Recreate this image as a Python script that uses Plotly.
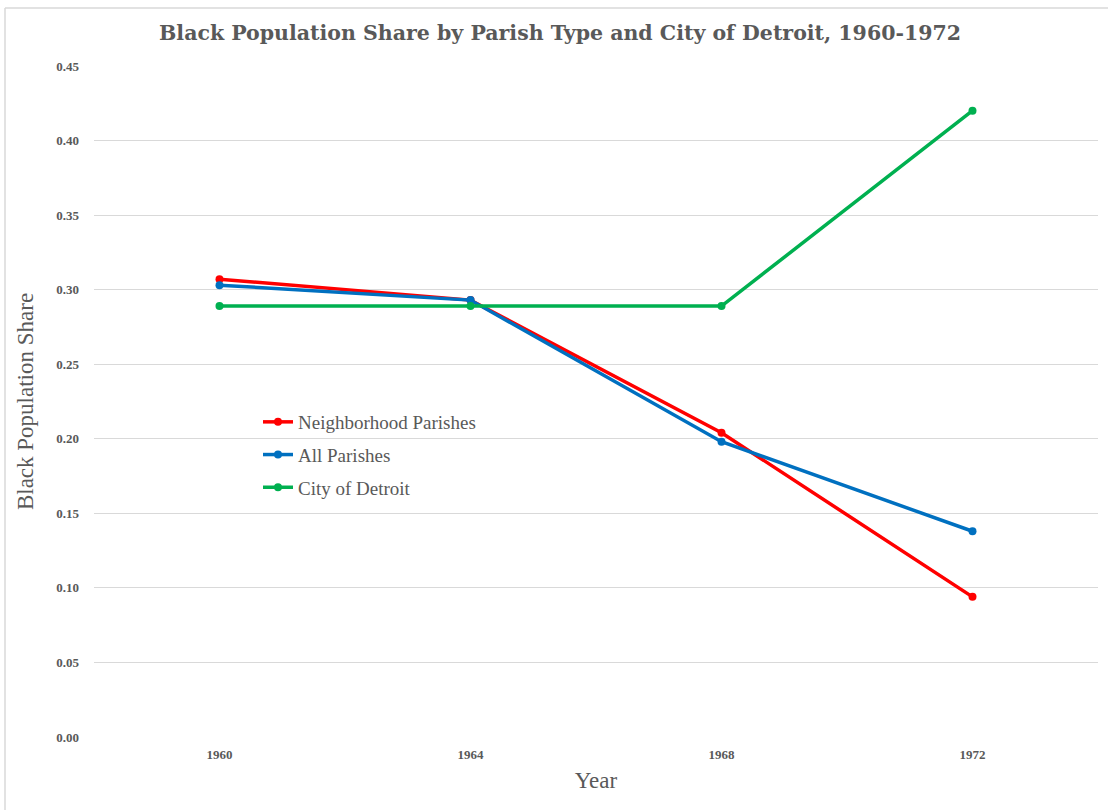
import plotly.graph_objects as go

years = ["1960", "1964", "1968", "1972"]
neighborhood = [0.307, 0.293, 0.204, 0.094]
all_parishes = [0.303, 0.293, 0.198, 0.138]
detroit = [0.289, 0.289, 0.289, 0.420]
y_ticks = [0.00, 0.05, 0.10, 0.15, 0.20, 0.25, 0.30, 0.35, 0.40, 0.45]

series = [
    ("Neighborhood Parishes", neighborhood, "#FF0000"),
    ("All Parishes", all_parishes, "#0070C0"),
    ("City of Detroit", detroit, "#00B050"),
]

fig = go.Figure()
for i, (name, vals, col) in enumerate(series):
    fig.add_trace(go.Scatter(
        x=years, y=vals, name=name, mode="lines+markers",
        line=dict(color=col, width=3.5),
        marker=dict(color=col, size=8),
        legendgroup=str(i),
    ))

W, H = 1108, 810
l, r, t, b = 94, 10, 66, 73
pw, ph = W - l - r, H - t - b

def px(x):
    return (x - l) / pw

def py(y):
    return (H - b - y) / ph

fig.update_layout(
    width=W, height=H,
    margin=dict(l=l, r=r, t=t, b=b),
    paper_bgcolor="white", plot_bgcolor="white",
    title=dict(
        text="<b>Black Population Share by Parish Type and City of Detroit, 1960-1972</b>",
        x=560 / W, xref="container", y=1 - 33 / H, yanchor="middle", xanchor="center",
        font=dict(family="DejaVu Serif", size=20.5, color="#595959"),
    ),
    xaxis=dict(
        type="category", range=[-0.5, 3.5], showgrid=False, showline=False,
        ticks="", tickfont=dict(family="Liberation Serif", size=13, color="#595959"),
        ticklabelstandoff=8,
        tickvals=years, ticktext=[f"<b>{y}</b>" for y in years],
        title=dict(text="Year", font=dict(family="Liberation Serif", size=23, color="#595959"), standoff=10),
    ),
    yaxis=dict(
        range=[0, 0.45], tickvals=y_ticks, ticktext=[f"<b>{v:.2f}</b>" for v in y_ticks],
        showgrid=True, gridcolor="#D9D9D9", gridwidth=1, zeroline=False, showline=False,
        tickfont=dict(family="Liberation Serif", size=13, color="#595959"),
        ticklabelstandoff=14,
        title=dict(text="Black Population Share", font=dict(family="Liberation Serif", size=23, color="#595959"), standoff=16),
    ),
    legend=dict(
        x=px(258), y=py(403), xanchor="left", yanchor="top",
        bgcolor="rgba(0,0,0,0)",
        font=dict(family="Liberation Serif", size=19, color="#595959"),
        traceorder="grouped", tracegroupgap=5, itemwidth=30,
    ),
    showlegend=True,
)

fig.add_shape(type="line", xref="paper", yref="paper", x0=px(5), x1=px(W), y0=py(8), y1=py(8),
              line=dict(color="#D9D9D9", width=1.5), layer="below")
fig.add_shape(type="line", xref="paper", yref="paper", x0=px(5), x1=px(5), y0=py(8), y1=py(H),
              line=dict(color="#D9D9D9", width=1.5), layer="below")

fig.write_html("out.html", config={"displayModeBar": False},
               post_script="document.body.style.margin='0';")
